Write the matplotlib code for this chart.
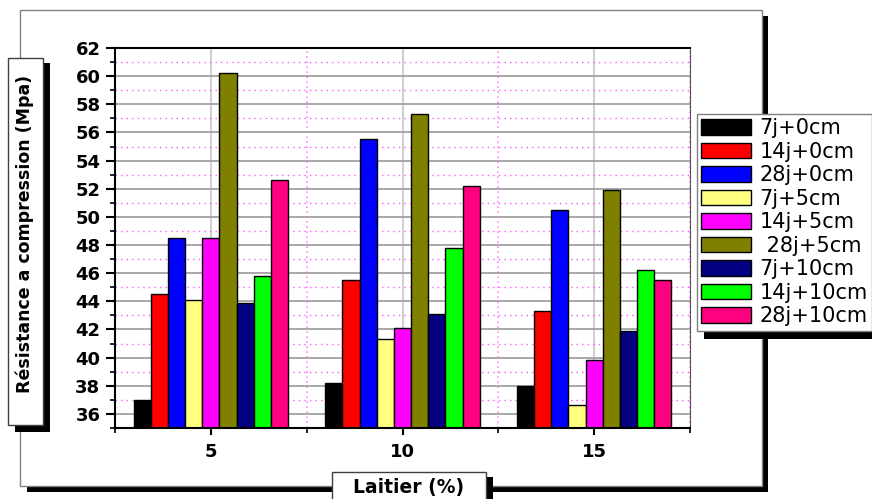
import numpy as np
import matplotlib.pyplot as plt
from matplotlib.patches import Rectangle
from matplotlib.ticker import MultipleLocator

laitier = [5, 10, 15]
series = ["7j+0cm", "14j+0cm", "28j+0cm", "7j+5cm", "14j+5cm", " 28j+5cm",
          "7j+10cm", "14j+10cm", "28j+10cm"]
j7_0 = [37.0, 38.2, 38.0]
j14_0 = [44.5, 45.5, 43.3]
j28_0 = [48.5, 55.5, 50.5]
j7_5 = [44.1, 41.3, 36.6]
j14_5 = [48.5, 42.1, 39.8]
j28_5 = [60.2, 57.3, 51.9]
j7_10 = [43.9, 43.1, 41.9]
j14_10 = [45.8, 47.8, 46.2]
j28_10 = [52.6, 52.2, 45.5]
valeurs = [j7_0, j14_0, j28_0, j7_5, j14_5, j28_5, j7_10, j14_10, j28_10]
couleurs = ["#000000", "#ff0000", "#0000ff", "#ffff80", "#ff00ff", "#808000",
            "#000080", "#00ff00", "#ff0080"]

plt.rcParams['font.family'] = 'DejaVu Sans'

W, H = 872, 499
fig = plt.figure(figsize=(W / 100, H / 100), dpi=100)

# fond : cadres et ombres en coordonnees pixels
bg = fig.add_axes([0, 0, 1, 1], zorder=-1)
bg.set_xlim(0, W)
bg.set_ylim(H, 0)
bg.axis('off')

bg.add_patch(Rectangle((27, 16), 741, 476, facecolor='black', edgecolor='none'))
bg.add_patch(Rectangle((20, 10), 742, 476, facecolor='white', edgecolor='#808080', lw=1))
bg.add_patch(Rectangle((15, 63), 35, 369, facecolor='black', edgecolor='none'))
bg.add_patch(Rectangle((8, 58), 35, 367, facecolor='white', edgecolor='#404040', lw=1))
bg.add_patch(Rectangle((339, 477), 154, 40, facecolor='black', edgecolor='none'))
bg.add_patch(Rectangle((332, 472), 154, 40, facecolor='white', edgecolor='#404040', lw=1))
bg.add_patch(Rectangle((704, 120), 200, 219, facecolor='black', edgecolor='none'))
bg.text(25, 234, "Résistance a compression (Mpa)", rotation=90, ha='center', va='center',
        fontsize=12.5, fontweight='bold')
bg.text(409, 487, "Laitier (%)", ha='center', va='center', fontsize=13.5, fontweight='bold')

ax = fig.add_axes([115 / W, 1 - 428 / H, 575 / W, 380 / H])
w = 0.448
x = np.array(laitier, dtype=float)
for i in range(len(series)):
    ax.bar(x + (i - 4) * w, valeurs[i], width=w, color=couleurs[i],
           edgecolor='black', linewidth=1, label=series[i])

ax.set_xlim(2.5, 17.5)
ax.set_ylim(35, 62)
ax.set_xticks(laitier)
ax.xaxis.set_minor_locator(MultipleLocator(2.5))
ax.yaxis.set_minor_locator(MultipleLocator(1))
ax.set_yticks(range(36, 63, 2))
ax.set_axisbelow(True)
ax.yaxis.grid(True, which='major', color='#9a9a9a', lw=1.2)
ax.xaxis.grid(True, which='major', color='#d0d0d0', lw=1.5)
ax.yaxis.grid(True, which='minor', color='#ff55ff', lw=1, ls=(0, (1, 3)))
ax.xaxis.grid(True, which='minor', color='#ff88ff', lw=1.2, ls=(0, (1, 2)))
ax.tick_params(axis='both', which='major', labelsize=13, width=1.5, direction='out')
ax.tick_params(axis='y', which='major', length=6.5, pad=4)
ax.tick_params(axis='x', which='major', length=5, pad=6)
ax.tick_params(axis='both', which='minor', length=3.5, width=1.2)
for lab in ax.get_xticklabels() + ax.get_yticklabels():
    lab.set_fontweight('bold')
for s in ['left', 'bottom', 'top']:
    ax.spines[s].set_linewidth(1.5)
ax.spines['right'].set_color('#505050')

leg = fig.legend(loc='upper left', bbox_to_anchor=(697 / W, 1 - 114 / H),
                 borderaxespad=0, fontsize=15, handlelength=2.4, handleheight=0.77,
                 handletextpad=0.4, labelspacing=0.17, borderpad=0.2,
                 frameon=True, fancybox=False, framealpha=1)
leg.get_frame().set_edgecolor('#808080')
leg.get_frame().set_linewidth(1)

fig.savefig('out.png', dpi=100)
